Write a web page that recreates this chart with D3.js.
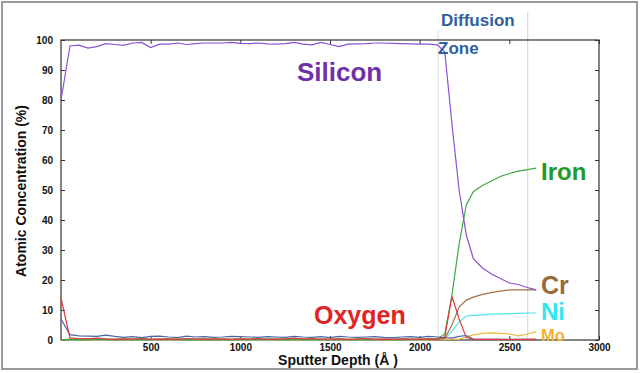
<!DOCTYPE html>
<html>
<head>
<meta charset="utf-8">
<script src="https://cdn.jsdelivr.net/npm/d3@7"></script>
<style>
  html, body { margin: 0; padding: 0; background: #fff; }
  svg { display: block; }
  text { font-family: "Liberation Sans", Arial, sans-serif; }
</style>
</head>
<body>
<svg id="chart" width="640" height="373"></svg>
<script>
// ---- data (sputter depth in Å, atomic concentration in %) ----
const depth = [0, 50, 100, 150, 200, 250, 300, 350, 400, 450, 500, 550, 600, 650, 700, 750, 800, 850, 900, 950,
  1000, 1050, 1100, 1150, 1200, 1250, 1300, 1350, 1400, 1450, 1500, 1550, 1600, 1650, 1700, 1750, 1800, 1850, 1900, 1950,
  2000, 2050, 2100, 2140, 2180, 2220, 2260, 2300, 2350, 2400, 2450, 2500, 2550, 2600, 2650];

const silicon = [80, 98, 98.3, 97.3, 97.8, 98.8, 98.5, 98.2, 99, 99.2, 97.5, 98.6, 98.6, 99, 98.5, 98.8, 99, 99, 99, 99.2,
  98.9, 98.8, 99, 98.7, 98.6, 98.8, 99.2, 98.6, 98.4, 99.2, 98.5, 97.8, 98.6, 98.7, 98.8, 99, 99, 98.9, 98.8, 98.7,
  98.6, 98.6, 98.4, 96, 72, 50, 35, 27, 24, 22, 20.5, 19, 18.5, 17.5, 16.7];

const oxygen = [14, 0.7, 0.5, 0.4, 0.6, 0.3, 0.2, 0.4, 0.3, 0.5, 0.2, 0.3, 0.4, 0.2, 0.5, 0.3, 0.2, 0.4, 0.3, 0.2,
  0.4, 0.3, 0.5, 0.2, 0.3, 0.4, 0.6, 0.3, 0.5, 0.2, 0.3, 0.4, 0.2, 0.3, 0.5, 0.2, 0.3, 0.2, 0.4, 0.3,
  0.2, 0.4, 0.3, 1, 14.5, 7, 0.8, 0.3, 0.2, 0.2, 0.2, 0.1, 0.2, 0.2, 0.2];

const carbon = [7, 1.8, 1.4, 1.3, 1.2, 1.6, 1.2, 0.9, 1.1, 0.8, 1.2, 1.3, 1.0, 0.8, 1.3, 1.0, 1.1, 0.9, 1.0, 1.2,
  1.1, 1.0, 0.9, 1.1, 1.0, 0.9, 1.2, 1.0, 0.9, 1.1, 0.8, 1.2, 1.0, 0.9, 1.0, 1.1, 0.9, 0.8, 1.0, 1.1,
  0.9, 1.2, 1.0, 0.8, 0.6, 1.2, 1.5, 0.3, 0.2, 0.2, 0.2, 0.2, 0.2, 0.2, 0.2];

const iron = [0, 0.1, 0.2, 0.1, 0.2, 0.3, 0.1, 0.2, 0.1, 0.2, 0.1, 0.2, 0.3, 0.1, 0.2, 0.1, 0.2, 0.1, 0.2, 0.1,
  0.2, 0.1, 0.2, 0.3, 0.1, 0.2, 0.1, 0.2, 0.1, 0.2, 0.1, 0.2, 0.1, 0.2, 0.1, 0.2, 0.1, 0.2, 0.1, 0.2,
  0.2, 0.3, 0.4, 2, 15, 32, 45, 49.5, 51.5, 53, 54.5, 55.5, 56.3, 56.8, 57.3];

const chromium = [0, 0.3, 0.2, 0.4, 0.3, 0.2, 0.3, 0.2, 0.3, 0.4, 0.2, 0.3, 0.2, 0.3, 0.2, 0.3, 0.4, 0.2, 0.3, 0.2,
  0.3, 0.2, 0.3, 0.2, 0.4, 0.3, 0.2, 0.3, 0.2, 0.3, 0.2, 0.3, 0.2, 0.3, 0.4, 0.2, 0.3, 0.2, 0.3, 0.2,
  0.3, 0.2, 0.3, 0.6, 5, 11, 13.3, 14.3, 15.2, 15.8, 16.3, 16.7, 16.7, 16.7, 16.7];

const nickel = [0, 0.2, 0.1, 0.2, 0.1, 0.2, 0.1, 0.2, 0.1, 0.2, 0.1, 0.2, 0.1, 0.2, 0.1, 0.2, 0.1, 0.2, 0.1, 0.2,
  0.1, 0.2, 0.1, 0.2, 0.1, 0.2, 0.1, 0.2, 0.1, 0.2, 0.1, 0.2, 0.1, 0.2, 0.1, 0.2, 0.1, 0.2, 0.1, 0.2,
  0.1, 0.2, 0.2, 0.5, 3, 6, 8, 8.2, 8.4, 8.6, 8.7, 8.8, 8.9, 9, 9];

const molybdenum = [0, 0, 0.1, 0, 0.1, 0, 0.1, 0, 0.1, 0, 0.1, 0, 0.1, 0, 0.1, 0, 0.1, 0, 0.1, 0,
  0.1, 0, 0.1, 0, 0.1, 0, 0.1, 0, 0.1, 0, 0.1, 0, 0.1, 0, 0.1, 0, 0.1, 0, 0.1, 0,
  0.1, 0, 0.1, 0.1, 0.2, 0.3, 1, 1.7, 2.2, 2.4, 2.2, 2, 1.4, 2, 2.7];

const xTicks = [500, 1000, 1500, 2000, 2500, 3000];
const yTicks = [0, 10, 20, 30, 40, 50, 60, 70, 80, 90, 100];
const diffusionZone = [2100, 2600];

const xTitle = "Sputter Depth (Å )";
const yTitle = "Atomic Concentration (%)";

// ---- drawing ----
const svg = d3.select("#chart");
const L = 61, R = 599, T = 40, B = 340;
const x = d3.scaleLinear().domain([0, 3000]).range([L, R]);
const y = d3.scaleLinear().domain([0, 100]).range([B, T]);

// outer frame
svg.append("rect").attr("x", 2).attr("y", 2).attr("width", 635).attr("height", 367)
  .attr("fill", "#fff").attr("stroke", "#9a9a9a").attr("stroke-width", 2);

// diffusion zone guide lines
svg.append("line").attr("x1", x(diffusionZone[0]) + 0.5).attr("x2", x(diffusionZone[0]) + 0.5)
  .attr("y1", 30).attr("y2", B).attr("stroke", "#dcdcdc").attr("stroke-width", 1);
svg.append("line").attr("x1", x(diffusionZone[1]) + 0.5).attr("x2", x(diffusionZone[1]) + 0.5)
  .attr("y1", 12).attr("y2", B).attr("stroke", "#d0d0d0").attr("stroke-width", 1);

// axes
const tickFont = g => g.selectAll("text").attr("font-family", "Liberation Sans, Arial, sans-serif")
  .attr("font-size", 10).attr("font-weight", "bold").attr("fill", "#111");

const gx = svg.append("g").attr("transform", `translate(0,${B})`)
  .call(d3.axisBottom(x).tickValues(xTicks).tickSize(-4).tickPadding(4).tickFormat(d3.format("d")));
gx.select(".domain").remove(); tickFont(gx);
gx.selectAll("line").attr("stroke", "#333");

const gxt = svg.append("g").attr("transform", `translate(0,${T})`)
  .call(d3.axisTop(x).tickValues(xTicks).tickSize(-4).tickFormat(""));
gxt.select(".domain").remove(); gxt.selectAll("line").attr("stroke", "#333");

const gy = svg.append("g").attr("transform", `translate(${L},0)`)
  .call(d3.axisLeft(y).tickValues(yTicks).tickSize(-4).tickPadding(8).tickFormat(d3.format("d")));
gy.select(".domain").remove(); tickFont(gy);
gy.selectAll("line").attr("stroke", "#333");

const gyr = svg.append("g").attr("transform", `translate(${R},0)`)
  .call(d3.axisRight(y).tickValues(yTicks).tickSize(-4).tickFormat(""));
gyr.select(".domain").remove(); gyr.selectAll("line").attr("stroke", "#333");

// plot frame
svg.append("rect").attr("x", L).attr("y", T).attr("width", R - L).attr("height", B - T)
  .attr("fill", "none").attr("stroke", "#333").attr("stroke-width", 1.2);

// series
const series = [
  { v: molybdenum, c: "#e8b838" },
  { v: nickel, c: "#4fe3ea" },
  { v: chromium, c: "#a0744a" },
  { v: iron, c: "#3ea83e" },
  { v: carbon, c: "#4a68a6" },
  { v: oxygen, c: "#e03a3a" },
  { v: silicon, c: "#8a50d2" }
];
const line = d3.line().x((d, i) => x(depth[i])).y(d => y(d));
series.forEach(s => {
  svg.append("path").datum(s.v).attr("d", line)
    .attr("fill", "none").attr("stroke", s.c).attr("stroke-width", 1.2);
});

// axis titles
svg.append("text").attr("x", 338).attr("y", 365).attr("text-anchor", "middle")
  .attr("font-size", 14).attr("font-weight", "bold").attr("fill", "#111").text(xTitle);
svg.append("text").attr("transform", "translate(26,191) rotate(-90)").attr("text-anchor", "middle")
  .attr("font-size", 14).attr("font-weight", "bold").attr("fill", "#111").text(yTitle);

// annotations
const ann = (tx, ty, size, color, str, weight) => svg.append("text").attr("x", tx).attr("y", ty)
  .attr("font-size", size).attr("font-weight", weight || "bold").attr("fill", color).text(str);
ann(441, 26, 17, "#2f5f9e", "Diffusion");
ann(438, 54, 17, "#2f5f9e", "Zone");
ann(297, 81, 26, "#7030a8", "Silicon");
ann(541, 180, 24, "#1f9a26", "Iron");
ann(541, 294, 25, "#9a6a3a", "Cr");
ann(541, 320, 24, "#33e6f0", "Ni");
ann(541, 341, 16.5, "#f0b030", "Mo");
ann(314, 324, 25, "#e02424", "Oxygen");
</script>
</body>
</html>
